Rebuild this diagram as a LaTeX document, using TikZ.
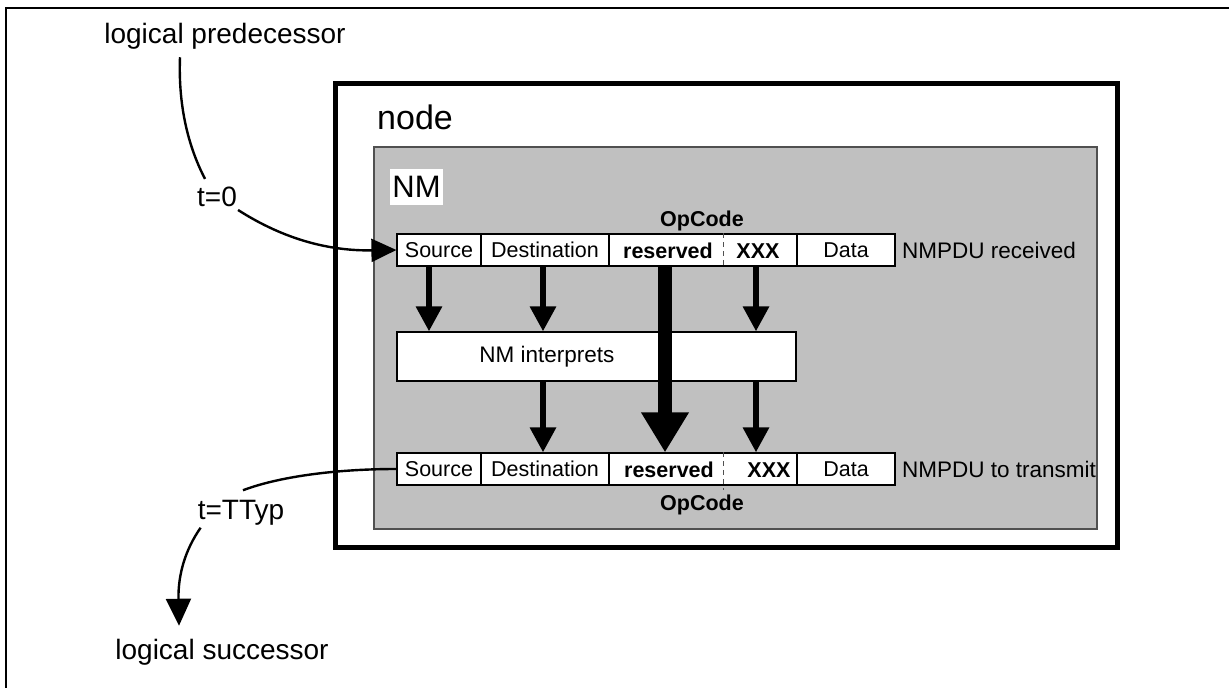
\documentclass[tikz,border=0pt]{standalone}
\usepackage{fontspec}
\setmainfont{Liberation Sans}
\usetikzlibrary{arrows.meta,calc}
\newcommand\myfs[1]{\fontsize{#1}{#1}\selectfont}
\definecolor{boxgray}{RGB}{192,192,192}
\definecolor{edgegray}{RGB}{80,80,80}
\begin{document}
\begin{tikzpicture}[x=1pt,y=-1pt,
  cell/.style={draw=black, line width=1.2pt, fill=white, minimum height=32pt, inner sep=0pt, font=\myfs{21.5}},
  txt/.style={inner sep=0pt, font=\myfs{21.5}},
  btxt/.style={inner sep=0pt, font=\myfs{21.5}\bfseries},
  side/.style={inner sep=0pt, font=\myfs{22.5}, anchor=west},
  lbl/.style={inner sep=0pt, font=\myfs{28}},
  arr/.style={line width=6pt, -{Triangle[length=25pt,width=25pt]}},
  bigarr/.style={line width=14pt, -{Triangle[length=40pt,width=45pt]}},
  curve/.style={line width=2.4pt},
  divider/.style={line width=0.8pt, edgegray, dash pattern=on 5pt off 4pt}
]
\useasboundingbox (0,0) rectangle (1229,688);
% outer frame (left and top edges)
\draw[line width=2pt] (6,688) -- (6,8) -- (1229,8);

% node box
\node[draw, line width=5pt, minimum width=782pt, minimum height=464pt, inner sep=0pt] (nodebox) at (726,315) {};
\node[inner sep=0pt, font=\myfs{34}, anchor=west] (nodelbl) at (377,117) {node};

% NM box
\node[draw=edgegray, line width=1.2pt, fill=boxgray, minimum width=723pt, minimum height=382pt, inner sep=0pt] (nmbox) at (735.5,338) {};
\node[fill=white, minimum width=53pt, minimum height=36pt, inner sep=0pt, font=\myfs{31}] (nmlbl) at (416.5,187) {NM};

% top row
\node[cell, minimum width=84pt] (src1) at (439,250) {Source};
\node[cell, minimum width=128pt] (dst1) at (545,250) {Destination};
\node[cell, minimum width=188pt] (op1) at (703,250) {};
\node[cell, minimum width=98pt] (dat1) at (846,250) {Data};
\node[btxt] (res1) at (668,251) {reserved};
\node[btxt] (xxx1) at (758,251) {XXX};
\draw[divider] ([xshift=20pt]op1.north) -- ([xshift=20pt]op1.south);
\node[btxt] (opc1) at (702,221) {OpCode};
\node[side] (rcv) at (902,250) {NMPDU received};

% NM interprets
\node[draw=black, line width=1.2pt, fill=white, minimum width=399pt, minimum height=49pt, inner sep=0pt] (interp) at (596.5,356.5) {};
\node[inner sep=0pt, font=\myfs{22.5}] (interpt) at (547,357) {NM interprets};

% bottom row
\node[cell, minimum width=84pt] (src2) at (439,469) {Source};
\node[cell, minimum width=128pt] (dst2) at (545,469) {Destination};
\node[cell, minimum width=188pt] (op2) at (703,469) {};
\node[cell, minimum width=98pt] (dat2) at (846,469) {Data};
\node[btxt] (res2) at (669,470) {reserved};
\node[btxt] (xxx2) at (769,470) {XXX};
\draw[divider] ([xshift=20pt]op2.north) -- ([xshift=20pt,yshift=-4pt]op2.south);
\node[btxt] (opc2) at (702,505) {OpCode};
\node[side] (tx) at (902,469) {NMPDU to transmit};

% arrows
\coordinate (s1a) at ($(src1.south)+(-10,0)$);
\coordinate (d1a) at ($(dst1.south)+(-2,0)$);
\coordinate (x1a) at ($(xxx1 |- op1.south)+(-2,0)$);
\draw[arr] (s1a) -- (s1a |- interp.north);
\draw[arr] (d1a) -- (d1a |- interp.north);
\draw[arr] (x1a) -- (x1a |- interp.north);
\draw[arr] (d1a |- interp.south) -- (d1a |- dst2.north);
\draw[arr] (x1a |- interp.south) -- (x1a |- op2.north);
\coordinate (r1a) at ($(res1 |- op1.south)+(-3,0)$);
\draw[bigarr] (r1a) -- (r1a |- op2.north);

% logical predecessor / successor
\node[lbl] (pred) at (225,36) {logical predecessor};
\node[lbl] (t0) at (217,197) {t=0};
\node[lbl] (ttyp) at (241,513) {t=TTyp};
\node[lbl] (succ) at (222,652) {logical successor};

\coordinate (p0) at ($(pred.south)+(-45,8)$);
\coordinate (p1) at ($(t0.north)+(-12,-8)$);
\coordinate (p2) at ($(t0.east)+(1,13)$);
\draw[curve] (p0) .. controls (178,110) and (190,150) .. (p1);
\draw[curve, -{Triangle[length=25pt,width=23pt]}] (p2) .. controls (285,240) and (330,251) .. (src1.west);

\coordinate (q1) at ($(ttyp.north)+(2,-10)$);
\coordinate (q2) at ($(ttyp.south west)+(3,2)$);
\coordinate (q3) at ($(succ.north)+(-43,-13)$);
\draw[curve] (src2.west) .. controls (330,469) and (275,478) .. (q1);
\draw[curve, -{Triangle[length=27pt,width=25pt]}] (q2) .. controls (185,550) and (178,575) .. (q3);
\end{tikzpicture}
\end{document}
